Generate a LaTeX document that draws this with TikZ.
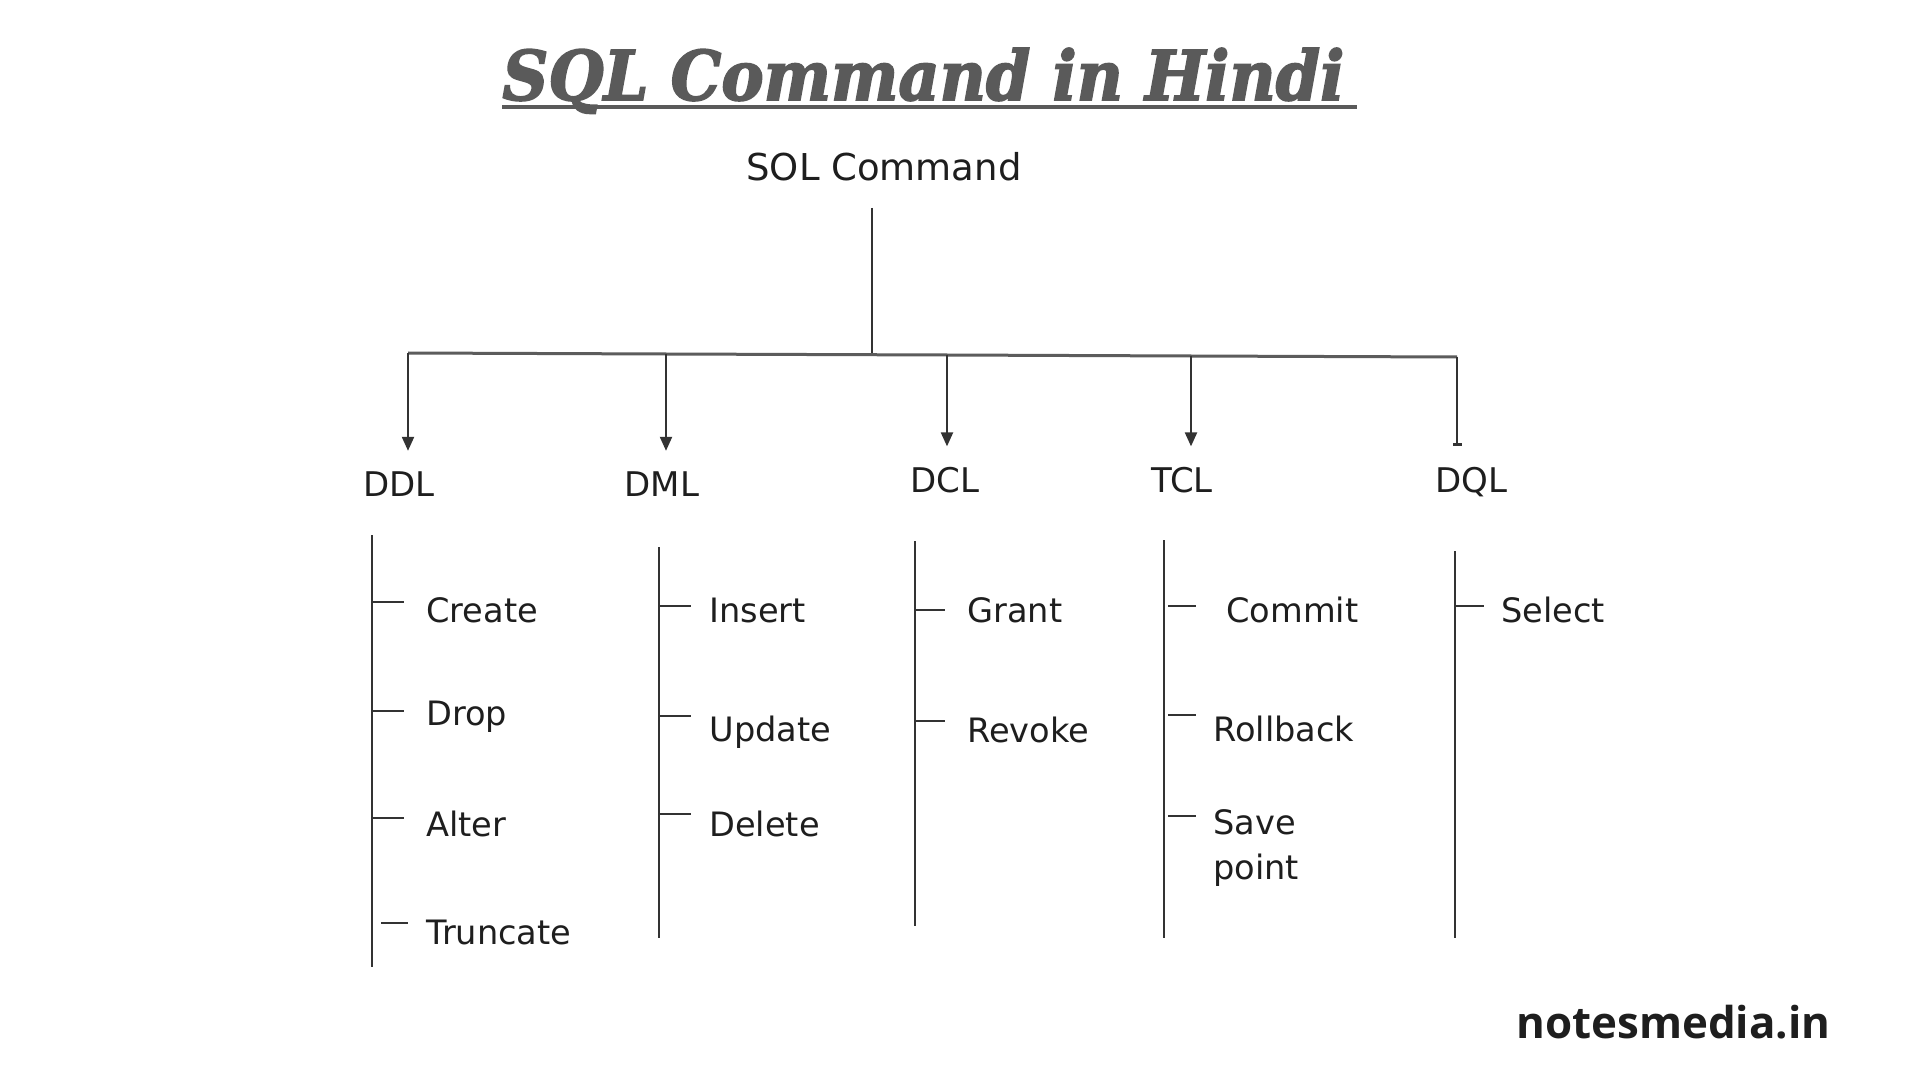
\documentclass[tikz,border=0pt]{standalone}
\usepackage{fontspec}
\usepackage{graphicx}
\setmainfont{DejaVu Sans}
\newfontfamily\titlefont[BoldItalicFeatures={FakeBold=2.5}]{DejaVu Serif}
\newfontfamily\footfont{Open Sans}
\usetikzlibrary{arrows.meta}
\definecolor{ink}{HTML}{1E1E1E}
\definecolor{titlegray}{HTML}{5A5A5A}
\definecolor{linegray}{HTML}{333333}
\tikzset{
  rootlabel/.style={inner sep=0pt, anchor=base, text=ink, font=\fontsize{18.5pt}{22pt}\selectfont},
  catlabel/.style={inner sep=0pt, anchor=base, text=ink, font=\fontsize{17pt}{20pt}\selectfont},
  itemlabel/.style={inner sep=0pt, anchor=base west, text=ink, font=\fontsize{16.8pt}{22.5pt}\selectfont},
  conn/.style={draw=linegray, line width=1.1pt},
  bar/.style={draw=linegray!80, line width=1.5pt},
  downarrow/.style={conn, -{Triangle[length=7pt,width=6pt]}, shorten >=10pt},
  teearrow/.style={conn, -{Rectangle[length=1.5pt,width=4.5pt]}, shorten >=10pt},
  branch/.style={draw=linegray, line width=1.3pt},
  tick/.style={draw=linegray, line width=1.1pt}
}
\begin{document}
\begin{tikzpicture}[x=0.5pt,y=-0.5pt]
\path[use as bounding box, fill=white] (0,0) rectangle (1920,1080);

% title
\node[inner sep=0pt, anchor=base west, text=titlegray] (title) at (502,100)
  {\resizebox{421pt}{26pt}{\titlefont\bfseries\itshape SQL Command in Hindi}};
\coordinate (ulL) at (502,107);
\coordinate (ulR) at (1357,107);
\draw[draw=titlegray, line width=2pt] (ulL) -- (ulR);

% root
\node[rootlabel] (root) at (884,181) {SOL Command};
\coordinate (stemtop) at (872,208);
\coordinate (junction) at (872,353);
\draw[conn] (stemtop) -- (junction);

% bar
\coordinate (b1) at (408,353);
\coordinate (b2) at (666,354);
\coordinate (b3) at (947,355);
\coordinate (b4) at (1191,356);
\coordinate (b5) at (1457,357);
\draw[bar] (b1) -- (b2) -- (b3) -- (b4) -- (b5);

% categories
\node[catlabel] (ddl) at (399,496) {DDL};
\node[catlabel] (dml) at (662,496) {DML};
\node[catlabel] (dcl) at (945,492) {DCL};
\node[catlabel] (tcl) at (1182,492) {TCL};
\node[catlabel] (dql) at (1471,492) {DQL};

\draw[downarrow] (b1) -- (b1 |- ddl.north);
\draw[downarrow] (b2) -- (b2 |- dml.north);
\draw[downarrow] (b3) -- (b3 |- dcl.north);
\draw[downarrow] (b4) -- (b4 |- tcl.north);
\draw[teearrow] (b5) -- (b5 |- dql.north);

% branch lines
\coordinate (ddlT) at (372,535);  \coordinate (ddlB) at (372,967);
\coordinate (dmlT) at (659,547);  \coordinate (dmlB) at (659,938);
\coordinate (dclT) at (915,541);  \coordinate (dclB) at (915,926);
\coordinate (tclT) at (1164,540); \coordinate (tclB) at (1164,938);
\coordinate (dqlT) at (1455,551); \coordinate (dqlB) at (1455,938);
\draw[branch] (ddlT) -- (ddlB);
\draw[branch] (dmlT) -- (dmlB);
\draw[branch] (dclT) -- (dclB);
\draw[branch] (tclT) -- (tclB);
\draw[branch] (dqlT) -- (dqlB);

% DDL items
\node[itemlabel] (create) at (426,622) {Create};
\node[itemlabel] (drop) at (426,725) {Drop};
\node[itemlabel] (alter) at (426,836) {Alter};
\node[itemlabel] (truncate) at (426,944) {Truncate};
\draw[tick] (ddlT |- 0,602) -- ++(32,0);
\draw[tick] (ddlT |- 0,711) -- ++(32,0);
\draw[tick] (ddlT |- 0,818) -- ++(32,0);
\draw[tick] (381,923) -- ++(27,0);

% DML items
\node[itemlabel] (insert) at (709,622) {Insert};
\node[itemlabel] (update) at (709,741) {Update};
\node[itemlabel] (delete) at (709,836) {Delete};
\draw[tick] (dmlT |- 0,606) -- ++(32,0);
\draw[tick] (dmlT |- 0,716) -- ++(32,0);
\draw[tick] (dmlT |- 0,814) -- ++(32,0);

% DCL items
\node[itemlabel] (grant) at (967,622) {Grant};
\node[itemlabel] (revoke) at (967,742) {Revoke};
\draw[tick] (dclT |- 0,610) -- ++(30,0);
\draw[tick] (dclT |- 0,721) -- ++(30,0);

% TCL items
\node[itemlabel] (commit) at (1226,622) {Commit};
\node[itemlabel] (rollback) at (1213,741) {Rollback};
\node[itemlabel, align=left] (savepoint) at (1213,879) {Save\\point};
\draw[tick] (1168,606) -- ++(28,0);
\draw[tick] (1168,715) -- ++(28,0);
\draw[tick] (1168,816) -- ++(28,0);

% DQL items
\node[itemlabel] (select) at (1501,622) {Select};
\draw[tick] (dqlT |- 0,606) -- ++(29,0);

% footer
\node[inner sep=0pt, anchor=west, text=ink] (footer) at (1516,1022)
  {\resizebox{157pt}{!}{\footfont\bfseries notesmedia.in}};
\end{tikzpicture}
\end{document}
